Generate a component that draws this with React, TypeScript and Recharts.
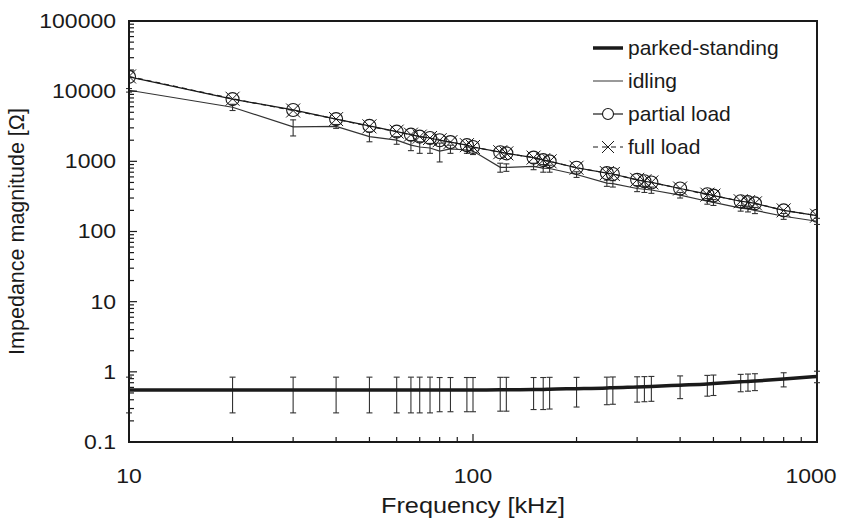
import { ComposedChart, Line, XAxis, YAxis, ErrorBar, ReferenceArea, Label } from 'recharts'

// frequencies shared by all four measurement series (kHz)
const freqs = [10, 20, 30, 40, 50, 60, 66, 70, 75, 80, 86, 96, 100, 120, 125, 150, 160, 167, 200, 245, 255, 300, 315, 330, 400, 480, 500, 600, 630, 660, 800, 1000]

const parkedValues = [0.55, 0.55, 0.55, 0.55, 0.55, 0.55, 0.55, 0.55, 0.55, 0.55, 0.55, 0.55, 0.55, 0.555, 0.555, 0.56, 0.56, 0.565, 0.575, 0.59, 0.595, 0.61, 0.615, 0.62, 0.645, 0.67, 0.68, 0.72, 0.73, 0.74, 0.79, 0.86]
const parkedErr = [0.29, 0.29, 0.29, 0.29, 0.29, 0.29, 0.29, 0.29, 0.29, 0.28, 0.28, 0.28, 0.28, 0.28, 0.28, 0.27, 0.27, 0.27, 0.26, 0.25, 0.25, 0.24, 0.24, 0.24, 0.23, 0.22, 0.22, 0.2, 0.2, 0.2, 0.18, 0.16]

const idlingValues = [10300, 5900, 3100, 3150, 2250, 2000, 1700, 1600, 1550, 1400, 1500, 1450, 1400, 820, 820, 850, 800, 790, 650, 490, 480, 410, 400, 390, 330, 270, 260, 215, 210, 200, 165, 140]
const idlingErr = [600, 600, 800, 200, 350, 250, 280, 300, 250, 420, 200, 150, 150, 120, 100, 90, 100, 90, 60, 50, 50, 40, 40, 40, 30, 25, 25, 20, 20, 20, 16, 14]

const partialValues = [16000, 7700, 5400, 4000, 3200, 2650, 2400, 2250, 2150, 2000, 1880, 1700, 1600, 1350, 1300, 1130, 1040, 1000, 810, 680, 660, 545, 520, 500, 410, 340, 325, 270, 262, 252, 200, 168]
const fullValues = [16200, 7800, 5300, 4000, 3150, 2650, 2400, 2250, 2150, 2000, 1880, 1700, 1600, 1350, 1300, 1130, 1040, 1000, 810, 680, 660, 545, 520, 500, 410, 335, 325, 270, 262, 252, 200, 168]

const xTickLabels = [10, 100, 1000]
const yTickLabels = [0.1, 1, 10, 100, 1000, 10000, 100000]

const legendNames = ['parked-standing', 'idling', 'partial load', 'full load']

const FONT = '"Liberation Sans", Arial, sans-serif'
const INK = '#1a1a1a'
const STRETCH = 1.15 // the source figure's axis text is a little wide

const withMinors = (majors: number[]) => [
  ...majors,
  ...majors.slice(0, -1).flatMap((m) => [2, 3, 4, 5, 6, 7, 8, 9].map((k) => +(m * k).toPrecision(4))),
]
const isMajor = (v: number) => Math.abs(Math.log10(v) - Math.round(Math.log10(v))) < 1e-6

const parkedData = freqs.map((f, i) => ({ f, v: parkedValues[i], e: parkedErr[i] }))
const idlingData = freqs.map((f, i) => ({ f, v: idlingValues[i], e: idlingErr[i] }))
const partialData = freqs.map((f, i) => ({ f, v: partialValues[i] }))
const fullData = freqs.map((f, i) => ({ f, v: fullValues[i] }))

function XTick({ x, y, payload }: any) {
  const major = isMajor(payload.value)
  // keep the last label inside the picture, as the source does
  const lx = Math.min(x, 842 - 31)
  return (
    <g>
      <line x1={x} x2={x} y1={y} y2={y - (major ? 8 : 5)} stroke={INK} strokeWidth={1.2} />
      {major && (
        <text transform={`translate(${lx},${y + 34}) scale(${STRETCH},1)`} textAnchor="middle" dominantBaseline="central" fontSize={20} fontFamily={FONT} fill={INK}>
          {payload.value}
        </text>
      )}
    </g>
  )
}

function YTick({ x, y, payload }: any) {
  const major = isMajor(payload.value)
  return (
    <g>
      <line x1={x} x2={x + (major ? 8 : 5)} y1={y} y2={y} stroke={INK} strokeWidth={1.2} />
      {major && (
        <text transform={`translate(${x - 13},${y}) scale(${STRETCH},1)`} textAnchor="end" dominantBaseline="central" fontSize={20} fontFamily={FONT} fill={INK}>
          {payload.value}
        </text>
      )}
    </g>
  )
}

function XTitle({ viewBox }: any) {
  const cx = viewBox.x + viewBox.width / 2
  return (
    <text transform={`translate(${cx},${viewBox.y + 64}) scale(${STRETCH},1)`} textAnchor="middle" dominantBaseline="central" fontSize={22} fontFamily={FONT} fill={INK}>
      Frequency [kHz]
    </text>
  )
}

const CircleDot = ({ cx, cy, index }: any) => (
  <circle key={`c${index}`} cx={cx} cy={cy} r={6.5} fill="none" stroke={INK} strokeWidth={1.1} />
)
const CrossDot = ({ cx, cy, index }: any) => (
  <path key={`x${index}`} d={`M${cx - 7},${cy - 7}L${cx + 7},${cy + 7}M${cx - 7},${cy + 7}L${cx + 7},${cy - 7}`} stroke={INK} strokeWidth={1} />
)

function LegendSymbol({ i }: { i: number }) {
  return (
    <svg width={32} height={20} style={{ marginRight: 4 }}>
      {i === 0 && <line x1={1} x2={31} y1={10} y2={10} stroke={INK} strokeWidth={3.5} />}
      {i === 1 && <line x1={1} x2={31} y1={10} y2={10} stroke="#555" strokeWidth={1.2} />}
      {i === 2 && (
        <>
          <line x1={1} x2={31} y1={10} y2={10} stroke={INK} strokeWidth={1.2} />
          <circle cx={16} cy={10} r={5.5} fill="#fff" stroke={INK} strokeWidth={1.1} />
        </>
      )}
      {i === 3 && (
        <>
          <line x1={1} x2={31} y1={10} y2={10} stroke={INK} strokeWidth={1.2} strokeDasharray="5 4" />
          <path d="M10,4L22,16M10,16L22,4" stroke={INK} strokeWidth={1} />
        </>
      )}
    </svg>
  )
}

export default function App() {
  return (
    <div style={{ position: 'absolute', left: 0, top: 0, width: 842, height: 522, background: '#fff' }}>
      <ComposedChart width={842} height={522} margin={{ top: 21, right: 25, bottom: 0, left: 0 }}>
        <XAxis
          type="number"
          dataKey="f"
          scale="log"
          domain={[10, 1000]}
          allowDataOverflow
          ticks={withMinors(xTickLabels)}
          interval={0}
          tick={<XTick />}
          tickLine={false}
          tickSize={0}
          tickMargin={0}
          height={80}
          axisLine={{ stroke: INK, strokeWidth: 2 }}
        >
          <Label content={XTitle} />
        </XAxis>
        <YAxis
          type="number"
          scale="log"
          domain={[0.1, 100000]}
          allowDataOverflow
          ticks={withMinors(yTickLabels)}
          interval={0}
          tick={<YTick />}
          tickLine={false}
          tickSize={0}
          tickMargin={0}
          width={129}
          axisLine={{ stroke: INK, strokeWidth: 2 }}
          label={{ value: 'Impedance magnitude [Ω]', angle: -90, position: 'insideLeft', offset: 16, style: { textAnchor: 'middle', fontSize: 21.5, fontFamily: FONT, fill: INK } }}
        />
        <ReferenceArea x1={10} x2={1000} y1={0.1} y2={100000} fill="none" stroke={INK} strokeWidth={2} />
        <Line data={idlingData} dataKey="v" stroke="#333" strokeWidth={1.2} dot={false} isAnimationActive={false}>
          <ErrorBar dataKey="e" width={3} stroke="#333" strokeWidth={1.1} direction="y" />
        </Line>
        <Line data={fullData} dataKey="v" stroke={INK} strokeWidth={1.2} strokeDasharray="5 4" dot={CrossDot} isAnimationActive={false} />
        <Line data={partialData} dataKey="v" stroke={INK} strokeWidth={1.2} dot={CircleDot} isAnimationActive={false} />
        <Line data={parkedData} type="monotone" dataKey="v" stroke={INK} strokeWidth={3.5} dot={false} isAnimationActive={false}>
          <ErrorBar dataKey="e" width={3} stroke="#333" strokeWidth={1.1} direction="y" />
        </Line>
      </ComposedChart>
      <div style={{ position: 'absolute', top: 31, left: 592, fontFamily: FONT, fontSize: 21, color: INK }}>
        {legendNames.map((name, i) => (
          <div key={name} style={{ display: 'flex', alignItems: 'center', height: 33 }}>
            <LegendSymbol i={i} />
            <span>{name}</span>
          </div>
        ))}
      </div>
    </div>
  )
}
